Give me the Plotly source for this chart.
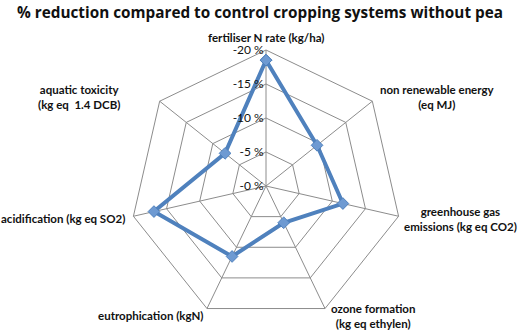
import plotly.graph_objects as go

categories = [
    "fertiliser N rate (kg/ha)",
    "non renewable energy<br>(eq MJ)",
    "greenhouse gas<br>emissions (kg eq CO2)",
    "ozone formation<br>(kg eq ethylen)",
    "eutrophication (kgN)",
    "acidification (kg eq SO2)",
    "aquatic toxicity<br>(kg eq  1.4 DCB)",
]
# % reduction (magnitude) compared to control
reduction = [18.5, 9.6, 11.6, 6.0, 11.5, 16.9, 7.7]
radial_tick_values = [0, 5, 10, 15, 20]
radial_tick_labels = ["-0 %", "-5 %", "-10 %", "-15 %", "-20 %"]

title_text = "% reduction compared to control cropping systems without pea"

FONT = "Lato"
BLUE = "#4F81BD"
GRID = "#8c8c8c"

fig = go.Figure()
fig.add_trace(go.Scatterpolar(
    r=reduction + reduction[:1],
    theta=categories + categories[:1],
    mode="lines+markers",
    line=dict(color=BLUE, width=4),
    marker=dict(symbol="diamond", size=9, color="#6E9AD2", line=dict(color=BLUE, width=1)),
    showlegend=False,
))

# label placement (pixel centres), layout only
label_pos = [
    (266, 38),
    (437, 97),
    (460, 219),
    (373, 316),
    (150, 315),
    (63, 218),
    (79, 97),
]
W, H = 520, 330
annotations = []
for cat, (px, py) in zip(categories, label_pos):
    annotations.append(dict(
        text="<b>" + cat + "</b>", x=px / W, y=1 - py / H, xref="paper", yref="paper",
        showarrow=False, align="center", xanchor="center", yanchor="middle",
        font=dict(family=FONT, size=11.5, color="#111"),
    ))

cx, cy, R = 266, 186, 136
fig.update_layout(
    width=W, height=H,
    margin=dict(l=0, r=0, t=0, b=0),
    paper_bgcolor="white",
    title=dict(text="<b>" + title_text + "</b>", x=0.5, xanchor="center", y=1 - 13 / H, yanchor="middle",
               font=dict(family="Open Sans", size=15.3, color="#111")),
    annotations=annotations,
    polar=dict(
        domain=dict(x=[(cx - R) / W, (cx + R) / W], y=[(H - cy - R) / H, (H - cy + R) / H]),
        bgcolor="white",
        gridshape="linear",
        radialaxis=dict(
            range=[0, 20], tickvals=radial_tick_values, ticktext=radial_tick_labels,
            angle=90, tickangle=90, side="counterclockwise", showline=False, ticks="",
            gridcolor=GRID, gridwidth=1,
            tickfont=dict(family=FONT, size=12, color="#111"),
        ),
        angularaxis=dict(
            type="category", rotation=90, direction="clockwise", showticklabels=False,
            ticks="", gridcolor=GRID, gridwidth=1, linecolor=GRID, linewidth=1,
        ),
    ),
)

fig.write_html("out.html", config={"displayModeBar": False},
               post_script="document.body.style.margin='0';document.body.style.overflow='hidden';")
